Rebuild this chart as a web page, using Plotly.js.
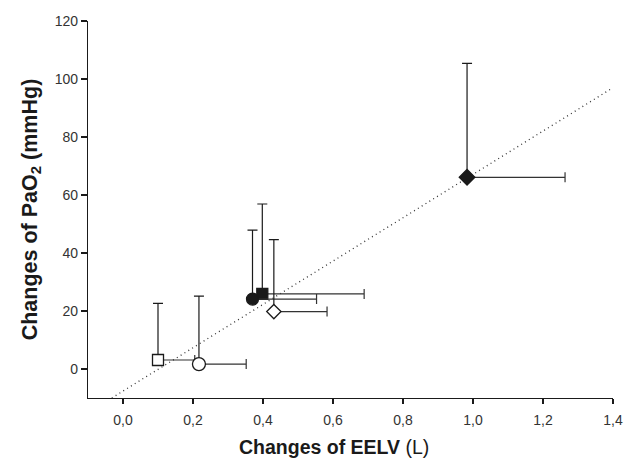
<!DOCTYPE html>
<html>
<head>
<meta charset="utf-8">
<script src="https://cdn.plot.ly/plotly-3.0.1.min.js"></script>
<style>html,body{margin:0;padding:0;background:#fff;}#chart{width:630px;height:467px;}</style>
</head>
<body>
<div id="chart"></div>
<script>
// Data
const groupNames = ["A", "B", "C", "D", "E", "F"];
const eelvChange = [0.10, 0.217, 0.37, 0.398, 0.431, 0.983];   // L
const pao2Change = [3.1, 1.7, 24.1, 25.9, 19.8, 66.1];          // mmHg
const eelvErrPlus = [0.105, 0.135, 0.183, 0.291, 0.152, 0.280];
const pao2ErrPlus = [19.5, 23.4, 23.8, 31.0, 24.8, 39.3];

// regression line endpoints
const fitX = [-0.032, 1.4];
const fitY = [-10, 97];

// axis ticks
const xTickVals = [0, 0.2, 0.4, 0.6, 0.8, 1.0, 1.2, 1.4];
const xTickText = ["0,0", "0,2", "0,4", "0,6", "0,8", "1,0", "1,2", "1,4"];
const yTickVals = [0, 20, 40, 60, 80, 100, 120];
const yTickText = ["0", "20", "40", "60", "80", "100", "120"];

// titles
const xTitle = "<b>Changes of EELV</b> (L)";
const yTitle = "<b>Changes of PaO<sub>2</sub> (mmHg)</b>";

// styles
const symbols = ["square", "circle", "circle", "square", "diamond", "diamond"];
const fills = ["#ffffff", "#ffffff", "#1a1a1a", "#1a1a1a", "#ffffff", "#1a1a1a"];
const sizes = [11, 13, 12, 11, 11, 12];
const drawOrder = [0, 1, 3, 2, 4, 5];

const font = "Liberation Sans, Arial, sans-serif";
const ink = "#1a1a1a";

const traces = [{
  x: fitX, y: fitY, type: "scatter", mode: "lines",
  line: {color: "#333", width: 1.3, dash: "1px,3.5px"},
  hoverinfo: "skip", showlegend: false
}];

drawOrder.forEach(i => {
  traces.push({
    x: [eelvChange[i]], y: [pao2Change[i]], name: groupNames[i],
    type: "scatter", mode: "markers", showlegend: false,
    marker: {
      symbol: symbols[i],
      size: sizes[i], color: fills[i],
      line: {color: ink, width: 1.3}
    },
    error_y: {type: "data", symmetric: false, array: [pao2ErrPlus[i]], arrayminus: [0],
              color: ink, thickness: 1.2, width: 5},
    error_x: {type: "data", symmetric: false, array: [eelvErrPlus[i]], arrayminus: [0],
              color: "#333", thickness: 1.2, width: 5}
  });
});

const layout = {
  width: 630, height: 467,
  margin: {l: 88, r: 17, t: 21, b: 69},
  paper_bgcolor: "#fff", plot_bgcolor: "#fff",
  font: {family: font, color: "#333", size: 14},
  xaxis: {
    range: [-0.1, 1.4], tickvals: xTickVals, ticktext: xTickText,
    showgrid: false, zeroline: false, showline: true, linecolor: ink, linewidth: 1.2,
    ticks: "outside", ticklen: 5, tickwidth: 1.2, tickcolor: ink, ticklabelstandoff: 4,
    tickfont: {family: font, size: 14, color: "#333"}
  },
  yaxis: {
    range: [-10, 120], tickvals: yTickVals, ticktext: yTickText,
    showgrid: false, zeroline: false, showline: true, linecolor: ink, linewidth: 1.2,
    ticks: "outside", ticklen: 6, tickwidth: 1.2, tickcolor: ink,
    tickfont: {family: font, size: 14, color: "#333"},
    title: {text: yTitle, font: {family: font, size: 21.5, color: ink}, standoff: 11}
  },
  annotations: [{
    text: xTitle, xref: "paper", yref: "paper", x: 0.469, y: 0,
    xanchor: "center", yanchor: "middle", yshift: -49, showarrow: false,
    font: {family: font, size: 19.5, color: ink}
  }]
};

Plotly.newPlot("chart", traces, layout, {staticPlot: true, displayModeBar: false});
</script>
</body>
</html>
